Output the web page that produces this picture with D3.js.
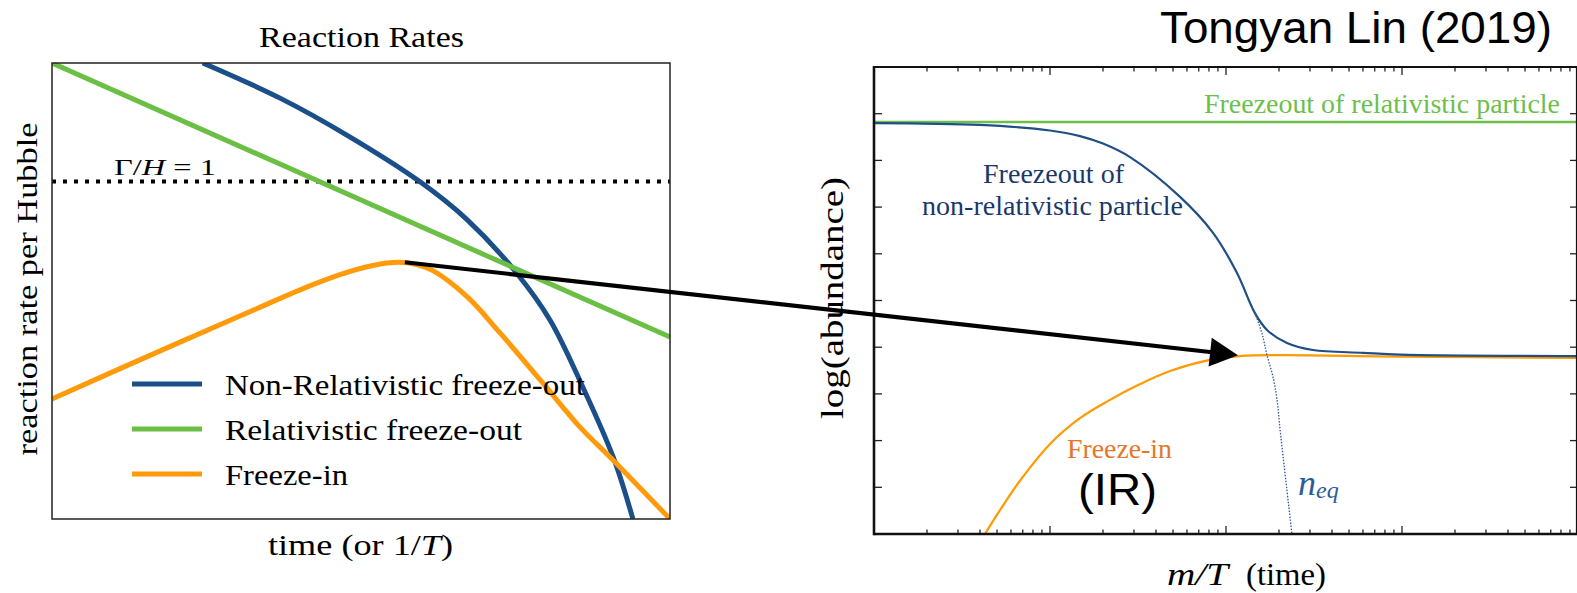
<!DOCTYPE html>
<html><head><meta charset="utf-8">
<script src="https://cdn.jsdelivr.net/npm/d3@7"></script>
<style>body{margin:0;background:#fff;overflow:hidden}</style>
</head><body><svg id="c" width="1577" height="593"></svg>
<script>
// ---------- Left panel data (arbitrary units: time 0..10, rate 0..10) ----------
const nonRelRate = [[2.44,10],[3.69,9.23],[4.77,8.42],[5.95,7.40],[6.72,6.56],[7.52,5.39],[8.06,4.36],[8.59,2.89],[9.08,1.36],[9.40,0]];
const relRate = [[0,10],[10,3.99]];
const freezeInRate = [[0,2.63],[1.42,3.49],[3.04,4.45],[4.13,5.09],[4.66,5.36],[5.19,5.56],[5.6,5.63],[5.9,5.58],[6.17,5.44],[6.72,4.87],[7.25,4.08],[7.90,3.05],[8.54,2.02],[9.08,1.29],[10,0]];
const gammaOverH = 7.40;
const legendLabels = ["Non-Relativistic freeze-out","Relativistic freeze-out","Freeze-in"];

// ---------- Right panel data (m/T log scale, log abundance 0..10) ----------
const relAbund = [[0.1,8.82],[1000,8.82]];
const nonRelAbund = [[0.1,8.80],[0.4,8.76],[1.0,8.64],[1.48,8.52],[2.0,8.36],[2.85,8.07],[5.48,7.22],[8.44,6.45],[11.55,5.59],[14.6,4.73],[17.1,4.37],[22.2,4.09],[31.2,3.94],[60,3.88],[97.4,3.84],[1000,3.81]];
const freezeInAbund = [[0.427,0],[0.52,0.51],[0.675,1.14],[1.013,1.95],[1.48,2.48],[2.14,2.85],[3.25,3.21],[4.81,3.49],[8.11,3.73],[12.0,3.81],[20.3,3.83],[97.4,3.80],[1000,3.77]];
const neqAbund = [[14.6,4.73],[16.0,4.30],[17.1,3.83],[18.5,3.36],[19.5,2.87],[20.3,2.23],[23.7,0]];
const yTicksRight = [0,1,2,3,4,5,6,7,8,9,10];
const arrowFrom = [5.71,5.63];   // left-panel coords (freeze-in peak)
const arrowTo = [11.7,3.83];     // right-panel coords

const svg = d3.select("#c");
const SERIF = "'Liberation Serif','Times New Roman',serif";
const SANS = "'Liberation Sans',Arial,sans-serif";

// ---------- scales ----------
const xL = d3.scaleLinear().domain([0,10]).range([52,670]);
const yL = d3.scaleLinear().domain([0,10]).range([519,63]);
const xR = d3.scaleLog().domain([0.1,1000]).range([874,1578]);
const yR = d3.scaleLinear().domain([0,10]).range([534,67]);

const C = {blue:"#1a4f8a", green:"#6cbf45", orange:"#ff9a0a"};
const curve = d3.curveCatmullRom.alpha(0.5);

// ---------- LEFT PANEL ----------
svg.append("clipPath").attr("id","clipL").append("rect")
  .attr("x",52).attr("y",63).attr("width",618).attr("height",456);
const lineL = d3.line().x(d=>xL(d[0])).y(d=>yL(d[1])).curve(curve);
const gL = svg.append("g").attr("clip-path","url(#clipL)");
gL.append("line").attr("x1",xL(0)).attr("x2",xL(10)).attr("y1",yL(gammaOverH)).attr("y2",yL(gammaOverH))
  .attr("stroke","#000").attr("stroke-width",4).attr("stroke-dasharray","4,7");
gL.append("path").attr("d",lineL(nonRelRate)).attr("fill","none").attr("stroke",C.blue).attr("stroke-width",5);
gL.append("path").attr("d",lineL(relRate)).attr("fill","none").attr("stroke",C.green).attr("stroke-width",5);
gL.append("path").attr("d",lineL(freezeInRate)).attr("fill","none").attr("stroke",C.orange).attr("stroke-width",5);

svg.append("rect").attr("x",52).attr("y",63).attr("width",618).attr("height",456)
  .attr("fill","none").attr("stroke","#222").attr("stroke-width",1.5);

svg.append("text").attr("x",259).attr("y",47).attr("font-family",SERIF).attr("font-size",29)
  .attr("textLength",205).attr("lengthAdjust","spacingAndGlyphs").text("Reaction Rates");

const gh = svg.append("text").attr("x",114).attr("y",175).attr("font-family",SERIF).attr("font-size",24)
  .attr("textLength",102).attr("lengthAdjust","spacingAndGlyphs");
gh.append("tspan").text("Γ/");
gh.append("tspan").attr("font-style","italic").text("H");
gh.append("tspan").text(" = 1");

const legColors = [C.blue,C.green,C.orange];
const legY = [384,429,474];
const legLen = [360,297,123];
legendLabels.forEach((t,i)=>{
  svg.append("line").attr("x1",132).attr("x2",202).attr("y1",legY[i]).attr("y2",legY[i])
    .attr("stroke",legColors[i]).attr("stroke-width",5);
  svg.append("text").attr("x",225).attr("y",legY[i]+11).attr("font-family",SERIF).attr("font-size",29)
    .attr("textLength",legLen[i]).attr("lengthAdjust","spacingAndGlyphs").text(t);
});

const xlab = svg.append("text").attr("x",268).attr("y",555).attr("font-family",SERIF).attr("font-size",30)
  .attr("textLength",185).attr("lengthAdjust","spacingAndGlyphs");
xlab.append("tspan").text("time (or 1/");
xlab.append("tspan").attr("font-style","italic").text("T");
xlab.append("tspan").text(")");

svg.append("text").attr("transform","translate(37,289) rotate(-90)").attr("text-anchor","middle")
  .attr("font-family",SERIF).attr("font-size",30).attr("textLength",333).attr("lengthAdjust","spacingAndGlyphs")
  .text("reaction rate per Hubble");

// ---------- RIGHT PANEL ----------
const lineR = d3.line().x(d=>xR(d[0])).y(d=>yR(d[1])).curve(curve);
svg.append("clipPath").attr("id","clipR").append("rect")
  .attr("x",874).attr("y",67).attr("width",704).attr("height",467);
const gR = svg.append("g").attr("clip-path","url(#clipR)");
gR.append("path").attr("d",lineR(relAbund)).attr("fill","none").attr("stroke","#6cc04a").attr("stroke-width",2.5);
gR.append("path").attr("d",lineR(freezeInAbund)).attr("fill","none").attr("stroke","#ff9a00").attr("stroke-width",2.2);
gR.append("path").attr("d",lineR(nonRelAbund)).attr("fill","none").attr("stroke","#1f4f86").attr("stroke-width",2.2);
gR.append("path").attr("d",lineR(neqAbund)).attr("fill","none").attr("stroke","#2a5c98").attr("stroke-width",1.3)
  .attr("stroke-dasharray","1.5,1.5");

// ticks
const tickG = svg.append("g").attr("stroke","#222").attr("stroke-width",1.3);
xR.ticks().forEach(v=>{
  const major = Math.abs(Math.log10(v)-Math.round(Math.log10(v)))<1e-6;
  const L = major?8:4.5, x = xR(v);
  tickG.append("line").attr("x1",x).attr("x2",x).attr("y1",yR(0)).attr("y2",yR(0)-L);
  tickG.append("line").attr("x1",x).attr("x2",x).attr("y1",yR(10)).attr("y2",yR(10)+L);
});
yTicksRight.forEach(v=>{
  const y = yR(v);
  tickG.append("line").attr("x1",xR(0.1)).attr("x2",xR(0.1)+8).attr("y1",y).attr("y2",y);
  tickG.append("line").attr("x1",xR(1000)).attr("x2",xR(1000)-8).attr("y1",y).attr("y2",y);
});
// frame
svg.append("line").attr("x1",874).attr("x2",1578).attr("y1",yR(10)).attr("y2",yR(10)).attr("stroke","#111").attr("stroke-width",2.2);
svg.append("line").attr("x1",874).attr("x2",1578).attr("y1",yR(0)).attr("y2",yR(0)).attr("stroke","#111").attr("stroke-width",2.6);
svg.append("line").attr("x1",874).attr("x2",874).attr("y1",yR(10)-1).attr("y2",yR(0)+1.3).attr("stroke","#111").attr("stroke-width",2.6);
svg.append("line").attr("x1",1577).attr("x2",1577).attr("y1",yR(10)).attr("y2",yR(0)).attr("stroke","#111").attr("stroke-width",2.2);

// texts
svg.append("text").attr("x",1160).attr("y",43).attr("font-family",SANS).attr("font-size",44)
  .attr("textLength",392).attr("lengthAdjust","spacingAndGlyphs").text("Tongyan Lin (2019)");
svg.append("text").attr("x",1204).attr("y",113).attr("font-family",SERIF).attr("font-size",27).attr("fill","#6cbf4a")
  .attr("textLength",356).attr("lengthAdjust","spacingAndGlyphs").text("Freezeout of relativistic particle");
svg.append("text").attr("x",983).attr("y",183).attr("font-family",SERIF).attr("font-size",27).attr("fill","#1b3768")
  .attr("textLength",141).attr("lengthAdjust","spacingAndGlyphs").text("Freezeout of");
svg.append("text").attr("x",922).attr("y",215).attr("font-family",SERIF).attr("font-size",27).attr("fill","#1b3768")
  .attr("textLength",261).attr("lengthAdjust","spacingAndGlyphs").text("non-relativistic particle");
svg.append("text").attr("x",1067).attr("y",458).attr("font-family",SERIF).attr("font-size",27).attr("fill","#e5762a")
  .attr("textLength",105).attr("lengthAdjust","spacingAndGlyphs").text("Freeze-in");
svg.append("text").attr("x",1078).attr("y",505).attr("font-family",SANS).attr("font-size",44)
  .attr("textLength",79).attr("lengthAdjust","spacingAndGlyphs").text("(IR)");
const neq = svg.append("text").attr("x",1298).attr("y",495).attr("font-family",SERIF).attr("font-style","italic")
  .attr("font-size",36).attr("fill","#2a5c98");
neq.append("tspan").text("n");
neq.append("tspan").attr("font-size",24).attr("dy",3).text("eq");

svg.append("text").attr("x",1167).attr("y",585).attr("font-family",SERIF).attr("font-style","italic").attr("font-size",32)
  .attr("textLength",61).attr("lengthAdjust","spacingAndGlyphs").text("m/T");
svg.append("text").attr("x",1246).attr("y",585).attr("font-family",SERIF).attr("font-size",32)
  .attr("textLength",80).attr("lengthAdjust","spacingAndGlyphs").text("(time)");
svg.append("text").attr("transform","translate(843,298) rotate(-90)").attr("text-anchor","middle")
  .attr("font-family",SERIF).attr("font-size",32).attr("textLength",242).attr("lengthAdjust","spacingAndGlyphs")
  .text("log(abundance)");

// ---------- connecting arrow ----------
const p0 = [xL(arrowFrom[0]), yL(arrowFrom[1])];
const p1 = [xR(arrowTo[0]), yR(arrowTo[1])];
const dx = p1[0]-p0[0], dy = p1[1]-p0[1], len = Math.hypot(dx,dy);
const ux = dx/len, uy = dy/len, headL = 28, headW = 14.5;
const base = [p1[0]-ux*headL, p1[1]-uy*headL];
svg.append("line").attr("x1",p0[0]).attr("y1",p0[1]).attr("x2",base[0]+ux*2).attr("y2",base[1]+uy*2)
  .attr("stroke","#000").attr("stroke-width",4.2);
svg.append("path").attr("fill","#000").attr("d",
  `M${p1[0]},${p1[1]}L${base[0]-uy*headW},${base[1]+ux*headW}L${base[0]+uy*headW},${base[1]-ux*headW}Z`);
</script></body></html>
